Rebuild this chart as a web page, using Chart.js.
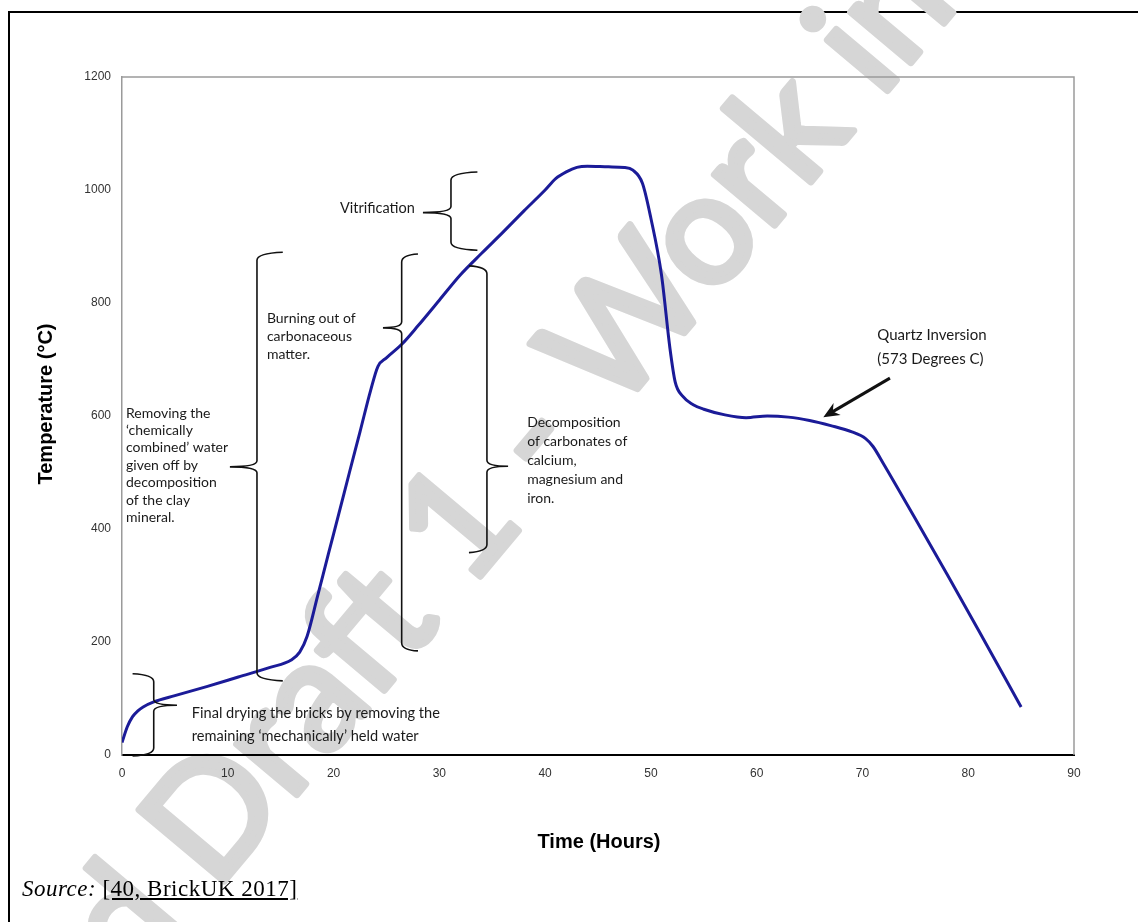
<!DOCTYPE html>
<html>
<head>
<meta charset="utf-8">
<script src="https://cdn.jsdelivr.net/npm/chart.js@4.4.0/dist/chart.umd.min.js"></script>
<style>
    body { margin: 0; background: #fff; overflow: hidden; }
    #marco { position: absolute; left: 8px; top: 11px; width: 1300px; height: 1100px; border-left: 2px solid #000; border-top: 2px solid #000; }
    #lienzo { position: absolute; left: 0; top: 0; }
    #fuente { position: absolute; left: 22px; top: 877px; font-family: "Liberation Serif", "Times New Roman", serif; font-size: 23px; line-height: 23px; letter-spacing: 0.5px; color: #000; }
</style>
</head>
<body>
<div id="marco"></div>
<canvas id="lienzo" width="1138" height="922"></canvas>
<div id="fuente"><i>Source:</i> <u>[40, BrickUK 2017]</u></div>
<script>
// datos de la curva de coccion (horas y temperatura en grados C)
const horas = [0, 0.5, 1, 1.5, 2, 3, 5, 8, 11, 14, 16, 16.8, 17.5, 18.5, 19.5, 20.5, 21.5, 22.5, 23.5, 24.2, 25, 26.4, 28, 30, 32, 34, 36, 38, 40, 41, 42, 43, 44, 46, 47.5, 48.3, 49.2, 50, 51, 51.8, 52.3, 53, 54, 55, 57, 59, 61, 63, 65, 67, 69, 70.3, 71, 72, 75, 78, 81, 85];
const temperaturas = [22, 50, 68, 78, 85, 94, 105, 121, 138, 155, 168, 182, 210, 282, 355, 427, 500, 572, 645, 688, 703, 726, 760, 805, 850, 888, 925, 963, 1000, 1020, 1032, 1040, 1042, 1041, 1040, 1035, 1012, 950, 850, 720, 660, 635, 620, 612, 602, 597, 600, 598, 592, 583, 572, 560, 546, 515, 418, 320, 220, 85];

// etiquetas de los ejes
const ticksX = [0, 10, 20, 30, 40, 50, 60, 70, 80, 90];
const ticksY = [0, 200, 400, 600, 800, 1000, 1200];
const tituloX = "Time (Hours)";
const tituloY = "Temperature (\u00B0C)";

// llaves de las etapas (en unidades de datos)
const llaves = [
    { x: 3.0, arriba: 142, abajo: 0, punta: 88, extremo: 1.0, pico: 5.2 },
    { x: 12.76, arriba: 888, abajo: 133, punta: 510, extremo: 15.2, pico: 10.2 },
    { x: 26.44, arriba: 885, abajo: 186, punta: 756, extremo: 27.98, pico: 24.67 },
    { x: 34.5, arriba: 864, abajo: 360, punta: 511, extremo: 32.8, pico: 36.5 },
    { x: 31.1, arriba: 1030, abajo: 895, punta: 960, extremo: 33.6, pico: 28.45 }
];

// textos de las etapas
const textos = [
    { lineas: ["Vitrification"], x: 20.6, y: 968, tam: 14.5, salto: 18 },
    { lineas: ["Burning out of", "carbonaceous", "matter."], x: 13.7, y: 772, tam: 14, salto: 17.7 },
    { lineas: ["Removing the", "\u2018chemically", "combined\u2019 water", "given off by", "decomposition", "of the clay", "mineral."], x: 0.38, y: 605, tam: 14, salto: 17.4 },
    { lineas: ["Decomposition", "of carbonates of", "calcium,", "magnesium and", "iron."], x: 38.3, y: 588, tam: 14, salto: 19 },
    { lineas: ["Final drying the bricks by removing the", "remaining \u2018mechanically\u2019 held water"], x: 6.6, y: 74, tam: 14.6, salto: 23 },
    { lineas: ["Quartz Inversion", "(573 Degrees C)"], x: 71.4, y: 743, tam: 15, salto: 24 }
];

// flecha del cuarzo
const flecha = { desdeX: 72.6, desdeY: 667, hastaX: 66.3, hastaY: 598 };

const puntos = horas.map((h, i) => ({ x: h, y: temperaturas[i] }));

// dibuja una llave vertical con su pico
function dibujarLlave(ctx, xs, ys, ll) {
    const x = xs.getPixelForValue(ll.x);
    const e = xs.getPixelForValue(ll.extremo);
    const p = xs.getPixelForValue(ll.pico);
    const yt = ys.getPixelForValue(ll.arriba);
    const yb = ys.getPixelForValue(ll.abajo);
    const yp = ys.getPixelForValue(ll.punta);
    const r = 7;
    ctx.beginPath();
    ctx.moveTo(e, yt - 1);
    ctx.quadraticCurveTo(x, yt, x, yt + r);
    ctx.lineTo(x, yp - 6);
    ctx.quadraticCurveTo(x, yp, p, yp);
    ctx.quadraticCurveTo(x, yp, x, yp + 6);
    ctx.lineTo(x, yb - r);
    ctx.quadraticCurveTo(x, yb, e, yb + 1);
    ctx.stroke();
}

const anotaciones = {
    id: "anotaciones",
    beforeDraw(chart) {
        // marca de agua (la D de "Draft" abajo a la izquierda)
        const ctx = chart.ctx;
        ctx.save();
        ctx.font = "155px Lato";
        ctx.fillStyle = "#d6d6d6";
        ctx.strokeStyle = "#d6d6d6";
        ctx.lineWidth = 7;
        ctx.lineJoin = "round";
        ctx.textBaseline = "alphabetic";
        ctx.translate(215, 892);
        ctx.rotate(-50 * Math.PI / 180);
        const w = ctx.measureText("Revised ").width;
        ctx.fillText("Revised Draft 1 - Work in Progress", -w, 0);
        ctx.strokeText("Revised Draft 1 - Work in Progress", -w, 0);
        ctx.restore();
    },
    afterDraw(chart) {
        const ctx = chart.ctx;
        const xs = chart.scales.x;
        const ys = chart.scales.y;
        const area = chart.chartArea;
        ctx.save();

        // borde superior y derecho del grafico
        ctx.strokeStyle = "#9a9a9a";
        ctx.lineWidth = 1.5;
        ctx.beginPath();
        ctx.moveTo(area.left, area.top);
        ctx.lineTo(area.right, area.top);
        ctx.lineTo(area.right, area.bottom);
        ctx.stroke();

        // llaves
        ctx.strokeStyle = "#111";
        ctx.lineWidth = 1.6;
        llaves.forEach(ll => dibujarLlave(ctx, xs, ys, ll));

        // flecha
        const x1 = xs.getPixelForValue(flecha.desdeX), y1 = ys.getPixelForValue(flecha.desdeY);
        const x2 = xs.getPixelForValue(flecha.hastaX), y2 = ys.getPixelForValue(flecha.hastaY);
        const ang = Math.atan2(y2 - y1, x2 - x1);
        ctx.lineWidth = 3;
        ctx.beginPath();
        ctx.moveTo(x1, y1);
        ctx.lineTo(x2 - 10 * Math.cos(ang), y2 - 10 * Math.sin(ang));
        ctx.stroke();
        ctx.fillStyle = "#111";
        ctx.beginPath();
        ctx.moveTo(x2, y2);
        ctx.lineTo(x2 - 16 * Math.cos(ang) + 7 * Math.sin(ang), y2 - 16 * Math.sin(ang) - 7 * Math.cos(ang));
        ctx.lineTo(x2 - 11 * Math.cos(ang), y2 - 11 * Math.sin(ang));
        ctx.lineTo(x2 - 16 * Math.cos(ang) - 7 * Math.sin(ang), y2 - 16 * Math.sin(ang) + 7 * Math.cos(ang));
        ctx.closePath();
        ctx.fill();

        // textos
        ctx.fillStyle = "#1a1a1a";
        ctx.textAlign = "left";
        ctx.textBaseline = "middle";
        textos.forEach(t => {
            ctx.font = t.tam + "px Lato";
            const px = xs.getPixelForValue(t.x);
            const py = ys.getPixelForValue(t.y);
            t.lineas.forEach((linea, i) => ctx.fillText(linea, px, py + i * t.salto));
        });

        // titulos de ejes
        ctx.fillStyle = "#000";
        ctx.textAlign = "center";
        ctx.font = "bold 20px 'Liberation Sans'";
        ctx.fillText(tituloX, 599, 842);
        ctx.save();
        ctx.translate(46, 404);
        ctx.rotate(-Math.PI / 2);
        ctx.font = "bold 20px 'Liberation Sans'";
        ctx.fillText(tituloY, 0, 0);
        ctx.restore();

        ctx.restore();
    }
};

new Chart(document.getElementById("lienzo"), {
    type: "line",
    data: {
        datasets: [{
            data: puntos,
            borderColor: "#1b1b98",
            borderWidth: 3,
            pointRadius: 0,
            cubicInterpolationMode: "monotone",
            fill: false
        }]
    },
    options: {
        responsive: false,
        animation: false,
        layout: { padding: { left: 0, top: 77, right: 64, bottom: 0 } },
        plugins: { legend: { display: false }, tooltip: { enabled: false } },
        scales: {
            x: {
                type: "linear",
                min: 0,
                max: 90,
                afterBuildTicks: (s) => { s.ticks = ticksX.map(v => ({ value: v })); },
                afterFit: (s) => { s.height = 167; },
                ticks: { color: "#333", font: { family: "Liberation Sans", size: 12 }, padding: 11, maxRotation: 0, callback: (v) => String(v) },
                grid: { display: false, drawTicks: false },
                border: { color: "#000", width: 2 }
            },
            y: {
                type: "linear",
                min: 0,
                max: 1200,
                afterBuildTicks: (s) => { s.ticks = ticksY.map(v => ({ value: v })); },
                afterFit: (s) => { s.width = 122; },
                ticks: { color: "#333", font: { family: "Liberation Sans", size: 12 }, padding: 11, callback: (v) => String(v) },
                grid: { display: false, drawTicks: false },
                border: { color: "#9a9a9a", width: 1.5 }
            }
        }
    },
    plugins: [anotaciones]
});
</script>
</body>
</html>
